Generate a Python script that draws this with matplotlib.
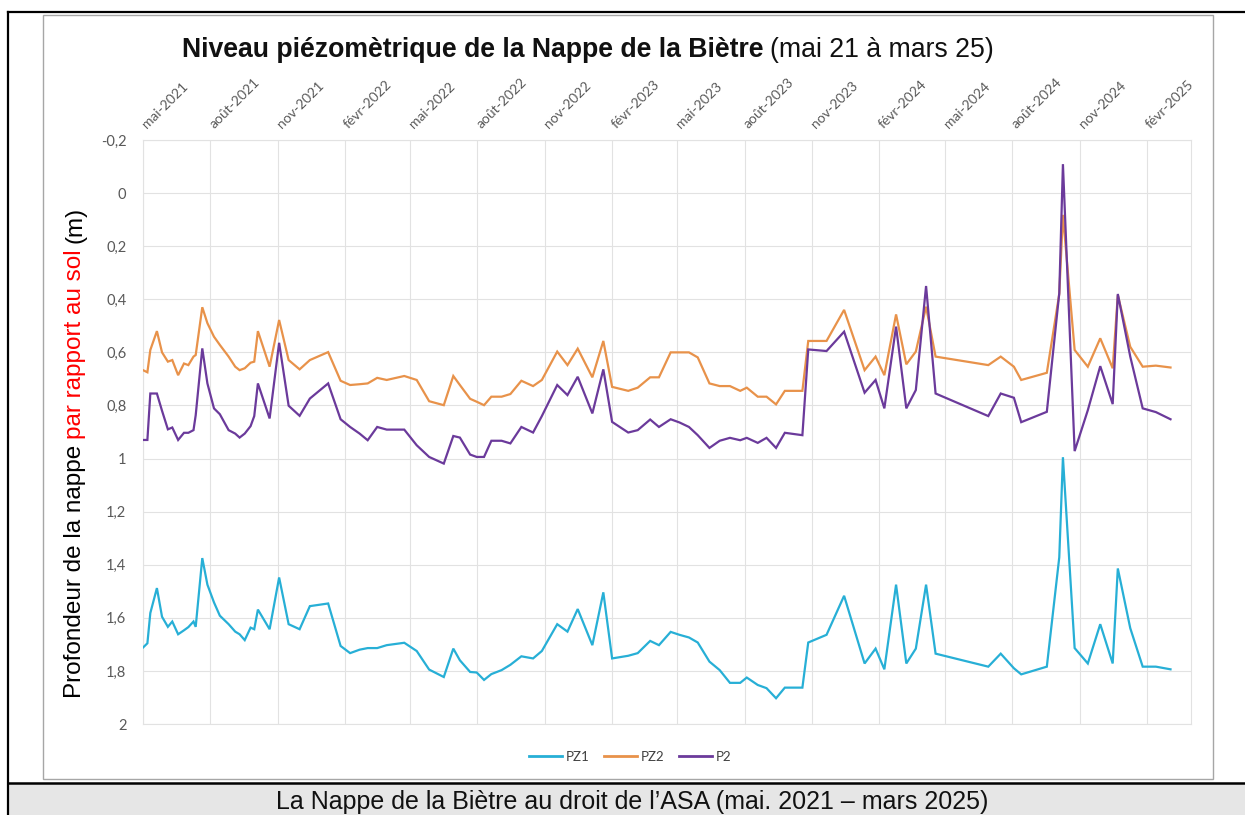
import matplotlib
matplotlib.use('Agg')
import matplotlib.pyplot as plt
import matplotlib.dates as mdates
from matplotlib.patches import Rectangle
from matplotlib.lines import Line2D
import numpy as np

# ---------------- data ----------------
dates = [
    '2021-05-01', '2021-05-07', '2021-05-11', '2021-05-20', '2021-05-27', '2021-06-04', '2021-06-10', '2021-06-18', '2021-06-26', '2021-07-02',
    '2021-07-09', '2021-07-12', '2021-07-21', '2021-07-28', '2021-08-06', '2021-08-14', '2021-08-26', '2021-09-04', '2021-09-10', '2021-09-17',
    '2021-09-25', '2021-09-30', '2021-10-05', '2021-10-21', '2021-11-03', '2021-11-16', '2021-12-01', '2021-12-15', '2022-01-09', '2022-01-26',
    '2022-02-08', '2022-02-21', '2022-03-04', '2022-03-17', '2022-03-30', '2022-04-23', '2022-05-10', '2022-05-27', '2022-06-16', '2022-06-29',
    '2022-07-08', '2022-07-22', '2022-07-31', '2022-08-10', '2022-08-20', '2022-09-03', '2022-09-15', '2022-09-30', '2022-10-16', '2022-10-28',
    '2022-11-18', '2022-12-02', '2022-12-16', '2023-01-05', '2023-01-20', '2023-02-01', '2023-02-23', '2023-03-08', '2023-03-25', '2023-04-06',
    '2023-04-22', '2023-05-04', '2023-05-17', '2023-05-29', '2023-06-14', '2023-06-28', '2023-07-12', '2023-07-26', '2023-08-04', '2023-08-19',
    '2023-08-31', '2023-09-13', '2023-09-25', '2023-10-19', '2023-10-27', '2023-11-21', '2023-12-15', '2024-01-12', '2024-01-27', '2024-02-08',
    '2024-02-24',
    '2024-03-09', '2024-03-22', '2024-04-05', '2024-04-18', '2024-06-29', '2024-07-16', '2024-08-03', '2024-08-13', '2024-09-17', '2024-10-04',
    '2024-10-09', '2024-10-25', '2024-11-12', '2024-11-29', '2024-12-16', '2024-12-23', '2025-01-09', '2025-01-26', '2025-02-13', '2025-03-05',
]

pz1 = [
    1.712, 1.696, 1.582, 1.488, 1.596, 1.634, 1.614, 1.662, 1.647, 1.635,
    1.614, 1.634, 1.375, 1.475, 1.542, 1.592, 1.624, 1.652, 1.662, 1.684,
    1.637, 1.643, 1.569, 1.643, 1.448, 1.624, 1.643, 1.556, 1.546, 1.706,
    1.733, 1.720, 1.714, 1.714, 1.703, 1.694, 1.725, 1.795, 1.823, 1.716,
    1.760, 1.804, 1.806, 1.834, 1.812, 1.797, 1.777, 1.745, 1.753, 1.725,
    1.624, 1.652, 1.567, 1.703, 1.504, 1.753, 1.743, 1.733, 1.687, 1.703,
    1.653, 1.664, 1.674, 1.693, 1.765, 1.797, 1.845, 1.845, 1.825, 1.853,
    1.865, 1.903, 1.863, 1.863, 1.693, 1.664, 1.517, 1.772, 1.716, 1.794,
    1.475,
    1.772, 1.716, 1.475, 1.735, 1.784, 1.735, 1.790, 1.813, 1.784, 1.372,
    0.995, 1.714, 1.772, 1.624, 1.772, 1.414, 1.639, 1.784, 1.784, 1.794,
]

pz2 = [
    0.667, 0.675, 0.591, 0.520, 0.600, 0.635, 0.629, 0.686, 0.642, 0.648,
    0.616, 0.610, 0.430, 0.490, 0.541, 0.572, 0.616, 0.654, 0.667, 0.660,
    0.639, 0.635, 0.520, 0.654, 0.478, 0.629, 0.664, 0.629, 0.599, 0.707,
    0.723, 0.720, 0.717, 0.696, 0.704, 0.689, 0.704, 0.784, 0.799, 0.689,
    0.723, 0.775, 0.786, 0.799, 0.767, 0.767, 0.757, 0.707, 0.727, 0.704,
    0.597, 0.648, 0.586, 0.694, 0.557, 0.730, 0.745, 0.733, 0.694, 0.694,
    0.600, 0.600, 0.600, 0.619, 0.717, 0.727, 0.727, 0.745, 0.733, 0.767,
    0.767, 0.796, 0.745, 0.745, 0.557, 0.557, 0.440, 0.667, 0.616, 0.686,
    0.457,
    0.645, 0.597, 0.428, 0.616, 0.648, 0.616, 0.654, 0.704, 0.677, 0.380,
    0.082, 0.591, 0.654, 0.547, 0.660, 0.384, 0.579, 0.654, 0.650, 0.657,
]

p2 = [
    0.930, 0.930, 0.755, 0.755, 0.820, 0.890, 0.883, 0.930, 0.903, 0.903,
    0.893, 0.837, 0.585, 0.717, 0.811, 0.833, 0.893, 0.906, 0.921, 0.906,
    0.878, 0.840, 0.717, 0.849, 0.564, 0.801, 0.839, 0.774, 0.717, 0.852,
    0.881, 0.906, 0.931, 0.881, 0.891, 0.891, 0.950, 0.994, 1.019, 0.915,
    0.921, 0.985, 0.994, 0.994, 0.933, 0.933, 0.943, 0.881, 0.902, 0.840,
    0.723, 0.761, 0.692, 0.830, 0.664, 0.862, 0.902, 0.893, 0.853, 0.881,
    0.852, 0.864, 0.881, 0.912, 0.960, 0.933, 0.922, 0.931, 0.922, 0.941,
    0.922, 0.960, 0.903, 0.912, 0.589, 0.595, 0.522, 0.752, 0.704, 0.811,
    0.503,
    0.811, 0.742, 0.350, 0.755, 0.840, 0.755, 0.771, 0.863, 0.824, 0.377,
    -0.109, 0.972, 0.818, 0.652, 0.795, 0.380, 0.616, 0.811, 0.825, 0.852,
]

series_names = ['PZ1', 'PZ2', 'P2']
series_colors = ['#27AFD6', '#E8924A', '#6B3A9B']

tick_dates = ['2021-05-01', '2021-08-01', '2021-11-01', '2022-02-01', '2022-05-01', '2022-08-01',
              '2022-11-01', '2023-02-01', '2023-05-01', '2023-08-01', '2023-11-01', '2024-02-01',
              '2024-05-01', '2024-08-01', '2024-11-01', '2025-02-01']
tick_labels = ['mai-2021', 'août-2021', 'nov-2021', 'févr-2022', 'mai-2022', 'août-2022',
               'nov-2022', 'févr-2023', 'mai-2023', 'août-2023', 'nov-2023', 'févr-2024',
               'mai-2024', 'août-2024', 'nov-2024', 'févr-2025']
x_limits = ['2021-05-01', '2025-04-02']

y_ticks = [-0.2, 0.0, 0.2, 0.4, 0.6, 0.8, 1.0, 1.2, 1.4, 1.6, 1.8, 2.0]
y_tick_labels = ['-0,2', '0', '0,2', '0,4', '0,6', '0,8', '1', '1,2', '1,4', '1,6', '1,8', '2']

title_bold = 'Niveau piézomètrique de la Nappe de la Biètre'
title_normal = '(mai 21 à mars 25)'
ylabel_parts = [('Profondeur de la nappe', '#000000'), ('par rapport au sol', '#FF0000'), ('(m)', '#000000')]
caption = 'La Nappe de la Biètre au droit de l\u2019ASA (mai. 2021 \u2013 mars 2025)'

# ---------------- figure ----------------
W, H = 1245, 815
fig = plt.figure(figsize=(W / 100, H / 100), dpi=100)
fig.patch.set_facecolor('white')


def fx(x):
    return x / W


def fy(y):
    return 1 - y / H


# caption band
fig.patches.append(Rectangle((fx(8), fy(815)), fx(W) - fx(8), fy(784) - fy(815),
                             transform=fig.transFigure, facecolor='#e6e6e6', edgecolor='none', zorder=0))
# outer black frame lines
fig.add_artist(Line2D([fx(7.5), fx(7.5)], [fy(12.3), fy(815)], color='black', lw=1.6, transform=fig.transFigure))
fig.add_artist(Line2D([fx(7.5), fx(W)], [fy(12.3), fy(12.3)], color='black', lw=1.6, transform=fig.transFigure))
fig.add_artist(Line2D([fx(7.5), fx(W)], [fy(783), fy(783)], color='black', lw=1.8, transform=fig.transFigure))
# inner grey chart box
fig.patches.append(Rectangle((fx(42.5), fy(779)), fx(1213) - fx(42.5), fy(14.5) - fy(779),
                             transform=fig.transFigure, facecolor='none', edgecolor='#a6a6a6', lw=1.0, zorder=1))

# axes
left, right, top, bottom = 143, 1191, 140, 724
ax = fig.add_axes([fx(left), fy(bottom), fx(right) - fx(left), fy(top) - fy(bottom)])
ax.set_facecolor('white')

xd = mdates.datestr2num(dates)
for vals, name, col in zip([pz1, pz2, p2], series_names, series_colors):
    ax.plot(xd, vals, color=col, lw=1.6, label=name, solid_joinstyle='miter', zorder=3)

ax.set_xlim(mdates.datestr2num(x_limits[0]), mdates.datestr2num(x_limits[1]))
ax.set_ylim(2.0, -0.2)

ax.set_xticks(mdates.datestr2num(tick_dates))
ax.set_xticklabels([])
ax.set_yticks(y_ticks)
ax.set_yticklabels(y_tick_labels, fontfamily='Lato', fontsize=10.5, color='#595959')
ax.tick_params(axis='both', length=0)
ax.tick_params(axis='y', pad=12)
ax.grid(True, color='#e2e2e2', lw=0.8)
for s in ax.spines.values():
    s.set_color('#e2e2e2')
    s.set_linewidth(0.8)

# rotated top date labels
for d, lab in zip(mdates.datestr2num(tick_dates), tick_labels):
    ax.annotate(lab, xy=(d, 1.0), xycoords=('data', 'axes fraction'), xytext=(4, 7), textcoords='offset points',
                rotation=45, rotation_mode='anchor', ha='left', va='bottom',
                fontfamily='Lato', fontsize=10, color='#595959')

# legend
handles = [Line2D([0], [0], color=c, lw=2) for c in series_colors]
fig.legend(handles, series_names, loc='center', bbox_to_anchor=(fx(630), fy(757)), ncol=3, frameon=False,
           prop={'family': 'Lato', 'size': 9.5}, handlelength=2.5, handletextpad=0.3, columnspacing=1.1,
           labelcolor='#404040')

# title (bold + normal)
fig.canvas.draw()
renderer = fig.canvas.get_renderer()
t1 = fig.text(fx(182), fy(57), title_bold, fontfamily='Liberation Sans', fontweight='bold', fontsize=19.2,
              ha='left', va='baseline', color='#111111')
ext = t1.get_window_extent(renderer)
fig.text((ext.x1 + 7) / W, fy(57), title_normal, fontfamily='Liberation Sans', fontsize=19.2,
         ha='left', va='baseline', color='#111111')

# y label with coloured middle part
ycur = 698
space = 6
for txt, col in ylabel_parts:
    t = fig.text(fx(75), fy(ycur), txt, rotation=90, ha='center', va='bottom', fontfamily='Liberation Sans',
                 fontsize=17.5, color=col)
    e = t.get_window_extent(renderer)
    ycur = ycur - e.height - space

# caption
fig.text(fx(632), fy(802), caption, ha='center', va='center', fontfamily='Liberation Sans', fontsize=18,
         color='#111111')

fig.savefig('out.png', dpi=100)
